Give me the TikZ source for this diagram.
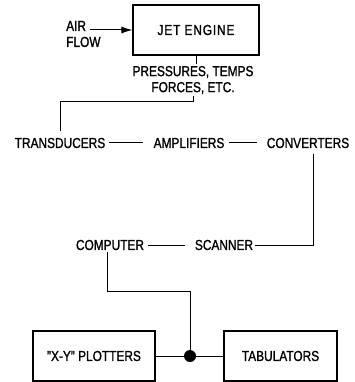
\documentclass[tikz,border=0pt]{standalone}
\usepackage{fontspec}
\setmainfont{Liberation Sans}[FakeStretch = 0.82, FakeBold = 1.2]
\usetikzlibrary{arrows, arrows.meta}
\tikzset{block/.style = {shape = rectangle, draw, line width = 1.1pt, minimum height = 50pt}}
\tikzset{word/.style = {font = \fontsize{14.5}{16}\selectfont, inner sep = 2pt}}
\tikzset{spaced/.style = {font = \fontsize{14.5}{16}\selectfont\addfontfeature{LetterSpace = 6}}}
\tikzset{wire/.style = {-, line width = 1pt}}
\tikzset{hyphen/.style = {wire, shorten <= 2pt, shorten >= 8pt}}
\tikzset{joint/.style = {shape = circle, fill, inner sep = 0pt, minimum size = 12pt}}

\begin{document}
\begin{tikzpicture}[x = 1pt, y = -1pt]
				\useasboundingbox (0, 0) rectangle (354, 382);

				\node[block, word, spaced, minimum width = 126pt] (engine) at (196, 30) {JET ENGINE};
				\node[word, align = left, anchor = west] (air) at (64, 34) {AIR\\FLOW};
				\coordinate (airtip) at (90, 30);
				\node[word, align = center] (press) at (193, 80) {PRESSURES, TEMPS\\FORCES, ETC.};

				\node[word] (trans) at (60, 143) {TRANSDUCERS};
				\node[word] (amp) at (189, 143) {AMPLIFIERS};
				\node[word] (conv) at (308, 143) {CONVERTERS};

				\node[word] (comp) at (110, 245) {COMPUTER};
				\node[word] (scan) at (224, 245) {SCANNER};

				\node[joint] (dot) at (190, 356) {};
				\node[block, word, minimum width = 122pt] (xy) at (94, 356) {\symbol{34}X-Y\symbol{34} PLOTTERS};
				\node[block, word, minimum width = 113pt] (tab) at (280.5, 356) {TABULATORS};

				\draw[wire, -{Latex[length = 11pt, width = 7pt]}] (airtip) -- (engine);
				\draw[wire] (engine.south) -- (engine.south |- press.north);
				\draw[wire, shorten >= 5pt] (press.south) -- ++(0, 5) -| (trans.north);
				\draw[hyphen] (trans) -- (amp);
				\draw[hyphen] (amp) -- (conv);
				\draw[wire, shorten <= 4pt] ([xshift = 5pt]conv.south) |- (scan.east);
				\draw[hyphen] (comp) -- (scan);
				\draw[wire] ([xshift = -3pt]comp.south) -- ++(0, 39) -| (dot);
				\draw[wire] (xy) -- (dot) -- (tab);
			\end{tikzpicture}
\end{document}
